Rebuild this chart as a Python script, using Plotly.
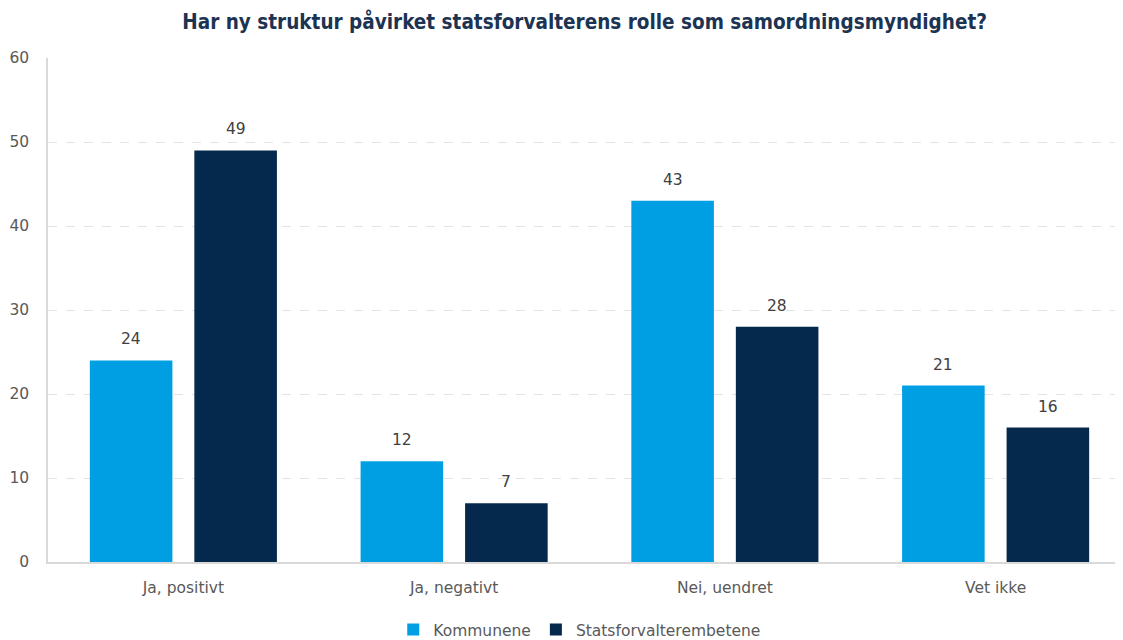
import plotly.graph_objects as go

categories = ["Ja, positivt", "Ja, negativt", "Nei, uendret", "Vet ikke"]
kommunene = [24, 12, 43, 21]
statsforvalter = [49, 7, 28, 16]
series_names = ["Kommunene", "Statsforvalterembetene"]
title = "Har ny struktur påvirket statsforvalterens rolle som samordningsmyndighet?"

font_title = "DejaVu Sans Condensed, DejaVu Sans, sans-serif"
font_body = "DejaVu Sans, sans-serif"
colors = ["#009FE3", "#04294C"]

BARGAP = 0.228
GROUPGAP = 0.21
ML, MR, MT, MB = 40, 0, 50, 86
W, H = 1123, 640

fig = go.Figure()
for name, vals, col in zip(series_names, [kommunene, statsforvalter], colors):
    fig.add_trace(go.Bar(x=categories, y=vals, name=name, marker=dict(color=col, line=dict(width=0))))

# value labels above bars, positioned from the data with a pixel offset per group slot
cat_px = (W - ML - MR) / len(categories)
slot_px = cat_px * (1 - BARGAP) / 2
for i, vals in enumerate([kommunene, statsforvalter]):
    shift = (i - 0.5) * slot_px
    for c, v in zip(categories, vals):
        fig.add_annotation(x=c, y=v, text=str(v), showarrow=False, xshift=shift, yshift=21,
                           font=dict(family=font_body, size=15.5, color="#404040"))

fig.update_layout(
    width=W, height=H,
    barmode="group", bargap=BARGAP, bargroupgap=GROUPGAP,
    plot_bgcolor="white", paper_bgcolor="white",
    margin=dict(l=ML, r=MR, t=MT, b=MB, autoexpand=False),
    title=dict(text="<b>" + title + "</b>", x=0.5135, xanchor="center", xref="container",
               y=1 - 14 / H, yanchor="middle",
               font=dict(family=font_title, size=20.5, color="#1C3352")),
    legend=dict(orientation="h", x=0.491, xanchor="center", y=-0.135, yanchor="middle",
                font=dict(family=font_body, size=15.5, color="#595959"),
                itemwidth=30, traceorder="normal"),
    font=dict(family=font_body, color="#595959"),
)
fig.update_yaxes(range=[0, 60], dtick=10, showgrid=True, gridcolor="#E3E3E3", griddash="dash",
                 showline=True, linecolor="#D9D9D9", linewidth=1.5, ticks="",
                 tickfont=dict(size=15.5, color="#595959", family=font_body), zeroline=False,
                 ticklabelstandoff=14, automargin=False)
fig.update_xaxes(showline=True, linecolor="#D9D9D9", linewidth=1.5, ticks="",
                 tickfont=dict(size=15.5, color="#595959", family=font_body),
                 ticklabelstandoff=11, automargin=False)

fig.write_html("out.html")
